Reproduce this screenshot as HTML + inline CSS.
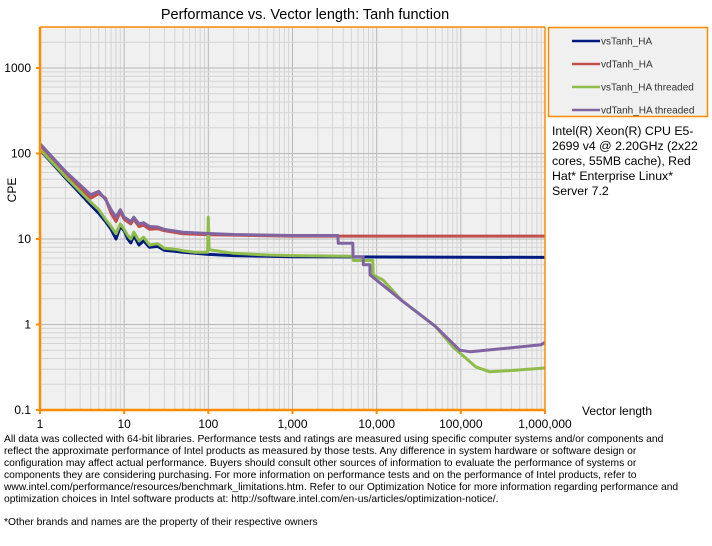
<!DOCTYPE html>
<html><head><meta charset="utf-8"><style>
body{margin:0;background:#fff;font-family:"Liberation Sans",Arial,sans-serif;}
#wrap{position:relative;width:712px;height:546px;overflow:hidden;}
.foot{position:absolute;left:4px;top:434px;width:708px;font-size:10.3px;line-height:12px;color:#000;white-space:nowrap;}
.info{position:absolute;left:552px;top:124px;width:160px;font-size:12.3px;line-height:15px;white-space:nowrap;}
</style></head><body>
<div id="wrap">
<svg id="chart" width="712" height="546"></svg>
<div class="info">Intel(R) Xeon(R) CPU E5-<br>2699 v4 @ 2.20GHz (2x22<br>cores, 55MB cache), Red<br>Hat* Enterprise Linux*<br>Server 7.2</div>
<div class="foot">All data was collected with 64-bit libraries. Performance tests and ratings are measured using specific computer systems and/or components and<br>reflect the approximate performance of Intel products as measured by those tests. Any difference in system hardware or software design or<br>configuration may affect actual performance. Buyers should consult other sources of information to evaluate the performance of systems or<br>components they are considering purchasing. For more information on performance tests and on the performance of Intel products, refer to<br>www.intel.com/performance/resources/benchmark_limitations.htm. Refer to our Optimization Notice for more information regarding performance and<br>optimization choices in Intel software products at: http://software.intel.com/en-us/articles/optimization-notice/.<div style="margin-top:11px">*Other brands and names are the property of their respective owners</div></div>
</div>
<script>
const seriesNames=["vsTanh_HA","vdTanh_HA","vsTanh_HA threaded","vdTanh_HA threaded"];
const seriesColors=["#001a80","#c0504d","#8fbc4a","#8064a2"];
const xTicks=[1,10,100,1000,10000,100000,1000000];
const xTickLabels=["1","10","100","1,000","10,000","100,000","1,000,000"];
const yTicks=[0.1,1,10,100,1000];
const yTickLabels=["0.1","1","10","100","1000"];
const navyX=[1,2,3,4,5,6,7,8,9,10,11,12,13,15,17,20,25,30,40,50,70,100,200,500,1000,1000000];
const navyY=[110,52,34,25,20,16,13,10,14,12.5,10,9,11,8.5,9.5,8,8.2,7.4,7.2,7,6.8,6.6,6.4,6.3,6.2,6.1];
const redX=[1,2,4,5,6,7,8,9,10,12,13,15,17,20,25,30,50,100,1000,1000000];
const redY=[120,58,30,34,30,20,16,21,17,15,17,14,14.5,13,13.2,12.5,11.5,11.2,10.8,10.8];
const greenX=[1,2,3,4,5,6,7,8,9,10,11,12,13,15,17,20,25,30,40,50,70,98,100,102,200,500,1000,5200,5300,9000,9100,12000,20000,50000,80000,150000,220000,400000,1000000];
const greenY=[112,54,36,27,22,17,14,11.5,15,13,11,10,12,9.5,10.5,8.5,8.8,7.8,7.6,7.3,7,7,18,7.5,6.8,6.5,6.4,6.3,5.6,5.6,3.8,3.3,1.9,0.95,0.55,0.32,0.28,0.29,0.31];
const purpleX=[1,2,4,5,6,7,8,9,10,12,13,15,17,20,25,30,50,100,200,1000,3450,3500,5200,5250,6900,6950,8300,8350,20000,50000,97000,130000,300000,900000,1000000];
const purpleY=[130,62,33,36,29,22,18,22,18,16,18,15,15.5,14,13.8,13,12,11.6,11.3,11,11,8.9,8.9,6.2,6.2,5,5,3.8,1.9,0.95,0.5,0.48,0.52,0.58,0.62];
const seriesX=[navyX,redX,greenX,purpleX];
const seriesY=[navyY,redY,greenY,purpleY];

const L=40,R=545,T=27,B=410;
const dec=(R-L)/6, ydec=85.5;
function xs(v){return L+Math.log10(v)*dec;}
function ys(v){return B-(Math.log10(v)+1)*ydec;}
const NS="http://www.w3.org/2000/svg";
const svg=document.getElementById('chart');
function mk(tag,attrs,parent){const e=document.createElementNS(NS,tag);for(const k in attrs)e.setAttribute(k,attrs[k]);(parent||svg).appendChild(e);return e;}
const bg=mk('rect',{x:L,y:T,width:R-L,height:B-T,fill:'#f0f0f0'});


const g=mk('g',{});


for(let d=0;d<6;d++)for(let m=1;m<10;m++){const x=xs(Math.pow(10,d)*m);mk('line',{x1:x,x2:x,y1:T,y2:B,stroke:m==1?'#b8b8b8':'#d4d4d4','stroke-width':1},g);}
for(let d=-1;d<4;d++)for(let m=1;m<10;m++){const v=Math.pow(10,d)*m;const y=ys(v);if(y<T)continue;mk('line',{x1:L,x2:R,y1:y,y2:y,stroke:m==1?'#b8b8b8':'#d4d4d4','stroke-width':1},g);}
for(let s=0;s<4;s++){
  const pts=seriesX[s].map((x,i)=>xs(x).toFixed(1)+','+ys(seriesY[s][i]).toFixed(1)).join(' ');
  const p=mk('polyline',{points:pts,fill:'none',stroke:seriesColors[s],'stroke-width':3,'stroke-linejoin':'round'});
  
  
}
mk('line',{x1:L,x2:L,y1:T,y2:B+1,stroke:'#ff8c00','stroke-width':2.5});
mk('line',{x1:L-1,x2:R,y1:B,y2:B,stroke:'#ff8c00','stroke-width':2.5});
mk('line',{x1:L,x2:R,y1:T,y2:T,stroke:'#ff8c00','stroke-width':1.5});
mk('line',{x1:R,x2:R,y1:T,y2:B,stroke:'#ff8c00','stroke-width':1.5});
xTicks.forEach((v,i)=>{const x=xs(v);mk('line',{x1:x,x2:x,y1:B,y2:B+4,stroke:'#ff8c00','stroke-width':2});
  const t=mk('text',{x:x,y:B+18,'text-anchor':'middle','font-size':12});t.textContent=xTickLabels[i];
  
  });
yTicks.forEach((v,i)=>{const y=ys(v);mk('line',{x1:L-4,x2:L,y1:y,y2:y,stroke:'#ff8c00','stroke-width':2});
  const t=mk('text',{x:L-9,y:y+4,'text-anchor':'end','font-size':12});t.textContent=yTickLabels[i];
  
  });
const ti=mk('text',{x:305,y:19,'text-anchor':'middle','font-size':14.5});ti.textContent='Performance vs. Vector length: Tanh function';


const xt=mk('text',{x:582,y:415,'font-size':12});xt.textContent='Vector length';


const yt=mk('text',{x:0,y:0,'font-size':12,'text-anchor':'middle',transform:'translate(16,190) rotate(-90)'});yt.textContent='CPE';


const lg=mk('g',{});


mk('rect',{x:548.5,y:27.5,width:159,height:89,fill:'#f0f0f0',stroke:'#ff8c00','stroke-width':1.5},lg);
seriesNames.forEach((n,i)=>{const y=41+i*23;
  mk('line',{x1:572,x2:600,y1:y,y2:y,stroke:seriesColors[i],'stroke-width':2.5},lg);
  const t=mk('text',{x:601,y:y+3.5,'font-size':10,fill:'#333'},lg);t.textContent=n;
  
  });
</script>
</body></html>
